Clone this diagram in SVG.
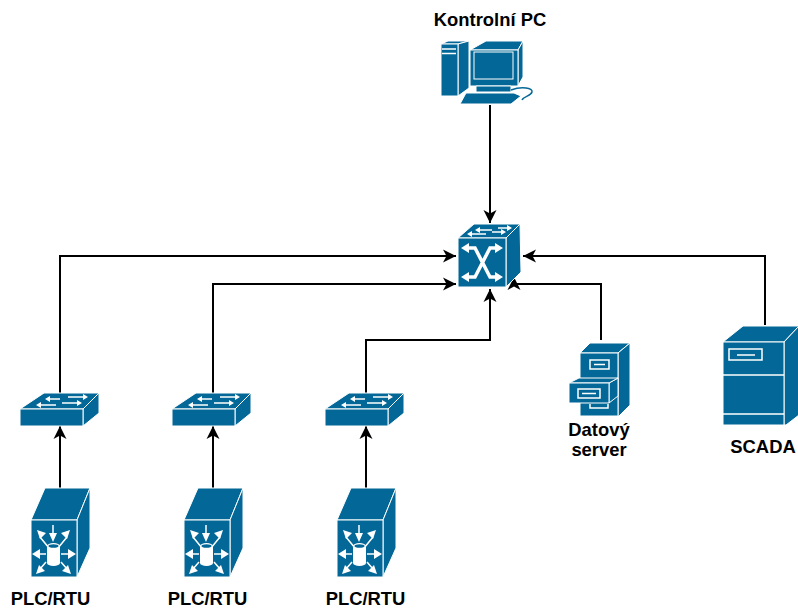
<svg xmlns="http://www.w3.org/2000/svg" xmlns:xlink="http://www.w3.org/1999/xlink" width="798" height="608" viewBox="0 0 798 608">
<style>
.c{fill:none;stroke:#000;stroke-width:2;marker-end:url(#a)}
.b{fill:#036897;stroke:#fff;stroke-width:1;stroke-linejoin:round}
.w{fill:#fff;stroke:none}
.l{fill:none;stroke:#fff;stroke-width:1.5}
.t{font-family:"Liberation Sans",Arial,sans-serif;font-weight:700;font-size:18.400px;fill:#000;text-anchor:middle}
</style>
<defs>
<marker id="a" markerUnits="userSpaceOnUse" markerWidth="16" markerHeight="16" refX="13" refY="8" orient="auto"><path d="M0 1.500L13 8L0 14.500L3.500 8Z" fill="#000"/></marker>
<g id="sw">
<path class="b" d="M0 16L24 0H79L63 16Z"/>
<path class="b" d="M63 16L79 0V20L63 33Z"/>
<rect class="b" x="0" y="16" width="63" height="17"/>
<path class="l" d="M27 6H40M48 4H66M18 12H36M42 10H60"/>
<path class="w" d="M25 6l5-3v6ZM68 4l-5-3v6ZM16 12l5-3v6ZM62 10l-5-3v6Z"/>
</g>
<g id="rt">
<path class="b" d="M0 32L14 0H59L46 32Z"/>
<path class="b" d="M46 32L59 0V60L46 89Z"/>
<rect class="b" x="0" y="32" width="46" height="57"/>
<path class="l" d="M22 37V50M18 60L9 49M27 60L36 49M15 66H7M30 66H39M15 74L9 81M30 74L36 81" stroke-width="2"/>
<path class="w" d="M22 54l-4-9h8ZM6 42l9 3-6 6ZM39 42l-9 3 6 6ZM1 66l8-5v10ZM45 66l-8-5v10ZM5 86l3-9 6 6ZM40 86l-3-9-6 6Z"/>
<path class="w" d="M16 58a6.500 3 0 0 1 13 0V75a6.500 3 0 0 1-13 0Z"/>
<ellipse cx="22.500" cy="58" rx="5" ry="1.800" fill="#036897"/>
</g>
</defs>
<g id="connectors">
<path class="c" d="M490 105V223"/>
<path class="c" d="M60 393V256H456"/>
<path class="c" d="M213 393V284H456"/>
<path class="c" d="M366 393V340H490V289"/>
<path class="c" d="M601 340V284H514V277"/>
<path class="c" d="M765 325V256H523"/>
<path class="c" d="M60 488V426"/>
<path class="c" d="M213 488V426"/>
<path class="c" d="M366 488V426"/>
</g>
<g id="pc">
<path class="b" d="M441 44L448 41H469L458 44Z"/>
<path class="b" d="M458 44L469 41V88L458 96Z"/>
<rect class="b" x="441" y="44" width="17" height="52"/>
<path class="l" d="M442 49H456M442 53.500H456"/>
<path class="b" d="M470 50L486 41H523L518 50Z"/>
<path class="b" d="M518 50L523 41V77L518 86Z"/>
<rect class="b" x="470" y="50" width="48" height="36"/>
<rect x="474" y="52" width="39" height="27" fill="#036897" stroke="#fff" stroke-width="1"/>
<path class="b" d="M476 86H511V92H476Z"/>
<path class="b" d="M466 93H514L521 96 511 104H460Z"/>
<path d="M511 90C522 86 533 88 532 92 531 96 524 96 522 100" fill="none" stroke="#036897" stroke-width="1.500"/>
</g>
<g id="core-switch">
<path class="b" d="M458 238L474 224H520L506 238Z"/>
<path class="b" d="M506 238L520 224L521 272L506 287Z"/>
<rect class="b" x="458" y="238" width="48" height="49"/>
<path class="l" d="M479 230H492M498 228H510M470 234H486M492 232H504"/>
<path class="w" d="M475 230l5-3v6ZM512 228l-5-3v6ZM467 234l5-3v6ZM506 232l-5-3v6Z"/>
<path d="M466 248H475L490 277H499M499 248H490L475 277H466" fill="none" stroke="#fff" stroke-width="3.500"/>
<path class="w" d="M461 248l8-5v10ZM503 248l-8-5v10ZM461 277l8-5v10ZM503 277l-8-5v10Z"/>
</g>
<g id="datovy-server">
<path class="b" d="M580 353L590 343H630L618 353Z"/>
<path class="b" d="M618 353L630 343V405L618 417Z"/>
<rect class="b" x="580" y="353" width="38" height="31"/>
<rect class="b" x="580" y="384" width="38" height="32"/>
<rect x="590" y="360" width="19" height="9" fill="none" stroke="#fff" stroke-width="1.500"/>
<path class="l" d="M594 364.500H605"/>
<path class="b" d="M609 383L618 378V396L609 403Z"/>
<path class="b" d="M569 383L579 378H618L609 383Z"/>
<rect class="b" x="569" y="383" width="40" height="20"/>
<rect x="578" y="389" width="22" height="9" fill="none" stroke="#fff" stroke-width="1.500"/>
<path class="l" d="M582 393.500H596M590 404V408H608V404"/>
</g>
<g id="scada">
<path class="b" d="M723 342L743 326H799L784 342Z"/>
<path class="b" d="M784 342L799 326V415L786 425H784Z"/>
<rect class="b" x="723" y="342" width="61" height="83"/>
<path class="l" d="M723 375H784M723 414H784"/>
<rect x="729" y="349" width="33" height="11" fill="none" stroke="#fff" stroke-width="1.500"/>
<path class="l" d="M737 355H755"/>
</g>
<g id="switch-1"><use xlink:href="#sw" href="#sw" x="20" y="393"/></g>
<g id="switch-2"><use xlink:href="#sw" href="#sw" x="172" y="393"/></g>
<g id="switch-3"><use xlink:href="#sw" href="#sw" x="325" y="393"/></g>
<g id="plc-1"><use xlink:href="#rt" href="#rt" x="31" y="488"/></g>
<g id="plc-2"><use xlink:href="#rt" href="#rt" x="184" y="488"/></g>
<g id="plc-3"><use xlink:href="#rt" href="#rt" x="337" y="488"/></g>
<text class="t" x="490" y="26">Kontrolní PC</text>
<text class="t" x="599" y="436">Datový</text>
<text class="t" x="599" y="456">server</text>
<text class="t" x="763" y="453">SCADA</text>
<text class="t" x="50.500" y="605">PLC/RTU</text>
<text class="t" x="207.500" y="605">PLC/RTU</text>
<text class="t" x="365.500" y="605">PLC/RTU</text>
</svg>
